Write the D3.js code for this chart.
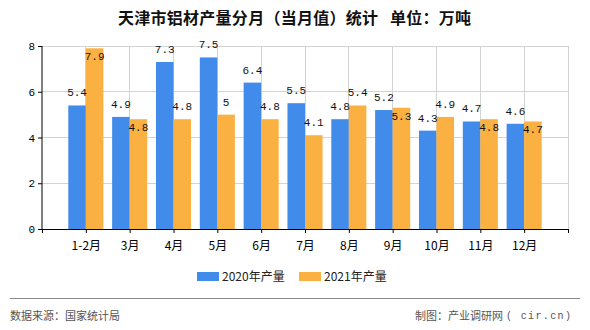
<!DOCTYPE html>
<html><head><meta charset="utf-8">
<script src="https://cdn.jsdelivr.net/npm/d3@7/dist/d3.min.js"></script>
<style>
body{margin:0;background:#fff;}
svg{display:block;}
</style></head>
<body><svg id="c" width="590" height="330"></svg>
<script>
const categories = ["1-2月","3月","4月","5月","6月","7月","8月","9月","10月","11月","12月"];
const values2020 = [5.4,4.9,7.3,7.5,6.4,5.5,4.8,5.2,4.3,4.7,4.6];
const values2021 = [7.9,4.8,4.8,5,4.8,4.1,5.4,5.3,4.9,4.8,4.7];
const seriesNames = ["2020年产量","2021年产量"];
const yTicks = [0,2,4,6,8];
const titleMain = "天津市铝材产量分月（当月值）统计";
const titleUnit = "单位：万吨";
const sourceText = "数据来源：国家统计局";
const creditText = "制图：产业调研网";
const creditSite = "( cir.cn)";

const colors = ["#418bea","#fbb142"];
const svg = d3.select("#c");
const pL = 42, pR = 568, pT = 46, pB = 229;
const cjk = "'Noto Sans CJK SC','Noto Sans',sans-serif";
const mono = "'Liberation Mono','DejaVu Sans Mono',monospace";

const x = d3.scalePoint().domain(["_s", ...categories, "_e"]).range([pL, pR]);
const y = d3.scaleLinear().domain([0, 8]).range([pB, pT]);
const bw = x.step() * 0.4;

// grid
const g = svg.append("g");
g.selectAll("line.h").data(yTicks.filter(t => t > 0)).join("line")
  .attr("x1", pL).attr("x2", pR).attr("y1", d => y(d)).attr("y2", d => y(d))
  .attr("stroke", "#d3d3d3").attr("stroke-width", 1).attr("shape-rendering","crispEdges");
g.selectAll("line.v").data([...categories, "_e"]).join("line")
  .attr("x1", d => x(d)).attr("x2", d => x(d)).attr("y1", pT).attr("y2", pB)
  .attr("stroke", "#d3d3d3").attr("stroke-width", 1).attr("shape-rendering","crispEdges");

// bars
const series = [values2020, values2021];
series.forEach((vals, si) => {
  svg.append("g").selectAll("rect").data(vals).join("rect")
    .attr("x", (d, i) => x(categories[i]) + (si === 0 ? -bw : 0))
    .attr("width", bw)
    .attr("y", d => y(d))
    .attr("height", d => pB - y(d))
    .attr("fill", colors[si]);
});

// labels
const fmt = d => String(d);
svg.append("g").selectAll("text").data(values2020).join("text")
  .attr("x", (d, i) => x(categories[i]) - bw / 2)
  .attr("y", d => y(d) - 9)
  .attr("text-anchor", "middle")
  .attr("font-family", mono).attr("font-size", 11).attr("fill", "#111")
  .text(fmt);
svg.append("g").selectAll("text").data(values2021).join("text")
  .attr("x", (d, i) => x(categories[i]) + bw / 2)
  .attr("y", (d, i) => {
    const inside = Math.abs(d - values2020[i]) < 0.3 || y(d) - 9 < pT;
    return inside ? y(d) + 12 : y(d) - 9;
  })
  .attr("text-anchor", "middle")
  .attr("font-family", mono).attr("font-size", 11).attr("fill", "#111")
  .text(fmt);

// axes
const xAxis = d3.axisBottom(x).tickSize(4).tickFormat(d => d.startsWith("_") ? "" : d);
const xg = svg.append("g").attr("transform", `translate(0,${pB})`).call(xAxis);
xg.select(".domain").attr("stroke", "#000");
xg.selectAll(".tick line").attr("stroke", "#000");
xg.selectAll("text").attr("font-family", cjk).attr("font-size", 12).attr("fill", "#000").attr("dy", "1.15em");

const yAxis = d3.axisLeft(y).tickValues(yTicks).tickSize(4).tickFormat(d3.format("d"));
const yg = svg.append("g").attr("transform", `translate(${pL},0)`).call(yAxis);
yg.select(".domain").attr("stroke", "#000").attr("d", `M0,${pT}V${pB}`);
yg.selectAll(".tick line").attr("stroke", "#000");
yg.selectAll("text").attr("font-family", mono).attr("font-size", 11).attr("fill", "#000");

// title
svg.append("text").attr("x", 118).attr("y", 24)
  .attr("font-family", cjk).attr("font-size", 16).attr("font-weight", "bold").attr("fill", "#111")
  .attr("textLength", 260).attr("lengthAdjust", "spacing")
  .text(titleMain);
svg.append("text").attr("x", 390).attr("y", 24)
  .attr("font-family", cjk).attr("font-size", 16).attr("font-weight", "bold").attr("fill", "#111")
  .attr("textLength", 81).attr("lengthAdjust", "spacing")
  .text(titleUnit);

// legend
const legendX = [197, 299];
seriesNames.forEach((n, i) => {
  svg.append("rect").attr("x", legendX[i]).attr("y", 272).attr("width", 22).attr("height", 9).attr("fill", colors[i]);
  svg.append("text").attr("x", legendX[i] + 25).attr("y", 281)
    .attr("font-family", cjk).attr("font-size", 12).attr("fill", "#222").text(n);
});

// footer
svg.append("line").attr("x1", 10).attr("x2", 580).attr("y1", 298).attr("y2", 298)
  .attr("stroke", "#888").attr("stroke-width", 1).attr("shape-rendering","crispEdges");
svg.append("text").attr("x", 10).attr("y", 320).attr("font-family", cjk).attr("font-size", 11).attr("fill", "#555").text(sourceText);
svg.append("text").attr("x", 415).attr("y", 320).attr("font-family", cjk).attr("font-size", 11).attr("fill", "#555").text(creditText);
svg.append("text").attr("x", 506).attr("y", 319).attr("font-family", mono).attr("font-size", 10)
  .attr("fill", "#555").attr("textLength", 65).attr("lengthAdjust", "spacing").text(creditSite);
</script></body></html>
